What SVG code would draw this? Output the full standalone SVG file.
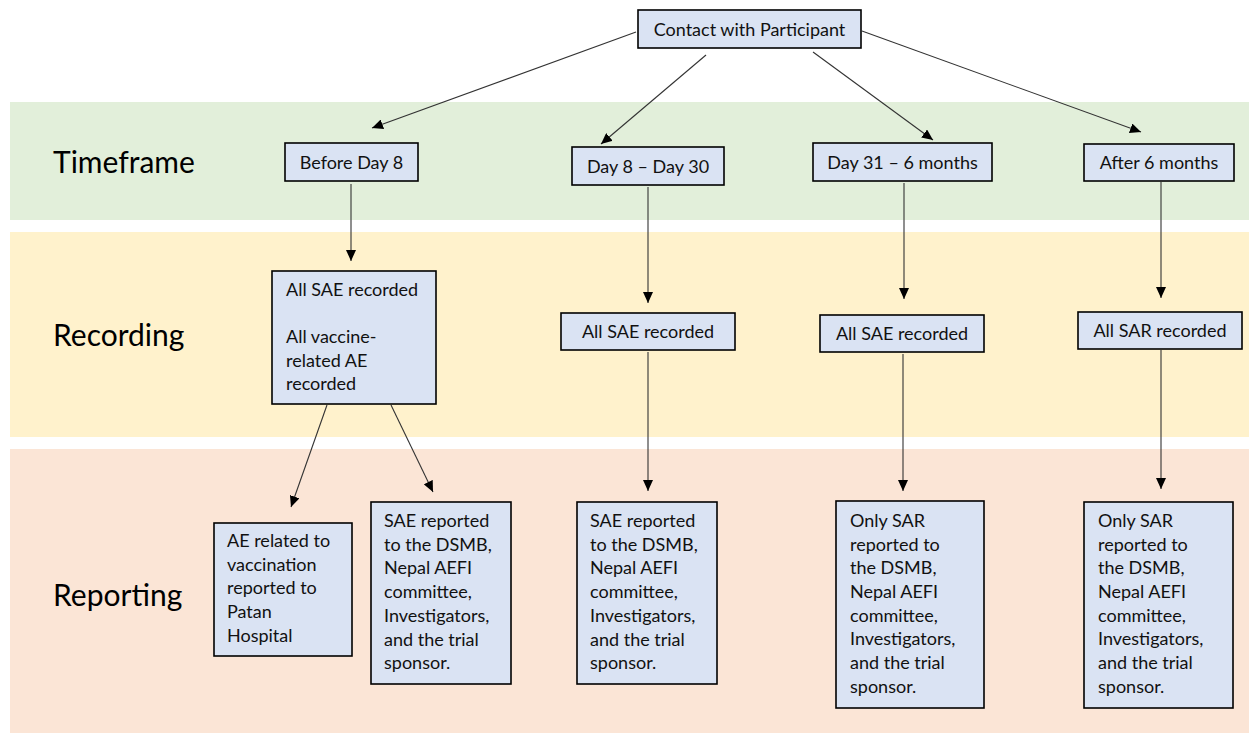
<svg xmlns="http://www.w3.org/2000/svg" width="1249" height="733" viewBox="0 0 1249 733">
<defs>
<style>
.node{fill:#DAE3F3;stroke:#000;stroke-width:1.6}
.t{font-family:Lato,"Liberation Sans",sans-serif;font-size:18px;fill:#111}
.c{text-anchor:middle}
.band{font-family:Lato,"Liberation Sans",sans-serif;font-size:30px;fill:#000}
.conn line{stroke:#333;stroke-width:1.1;marker-end:url(#ah)}
</style>
<marker id="ah" markerUnits="userSpaceOnUse" markerWidth="12" markerHeight="10" refX="11" refY="5" orient="auto">
<path d="M0,0 L11,5 L0,10 z" fill="#000"/>
</marker>
</defs>
<rect width="1249" height="733" fill="#fff"/>
<g id="bands">
<rect x="10" y="102" width="1239" height="118" fill="#E2EFDA"/>
<rect x="10" y="232" width="1239" height="205" fill="#FFF2CC"/>
<rect x="10" y="449" width="1239" height="284" fill="#FBE5D6"/>
<text class="band" x="53" y="173">Timeframe</text>
<text class="band" x="53" y="346">Recording</text>
<text class="band" x="53" y="606">Reporting</text>
</g>
<g class="conn" id="connectors">
<line x1="636" y1="32" x2="372" y2="128"/>
<line x1="706" y1="55" x2="601" y2="144"/>
<line x1="813" y1="52" x2="933" y2="140"/>
<line x1="862" y1="31" x2="1141" y2="132"/>
<line x1="351" y1="184" x2="351" y2="261"/>
<line x1="648" y1="187" x2="648" y2="303"/>
<line x1="904" y1="183" x2="904" y2="299"/>
<line x1="1161" y1="182" x2="1161" y2="298"/>
<line x1="327" y1="405" x2="291" y2="507"/>
<line x1="391" y1="405" x2="433" y2="492"/>
<line x1="648" y1="352" x2="648" y2="491"/>
<line x1="903" y1="354" x2="903" y2="491"/>
<line x1="1161" y1="350" x2="1161" y2="489"/>
</g>
<g id="contact">
<rect class="node" x="638" y="10" width="223" height="38"/>
<text class="t c" x="749.5" y="36">Contact with Participant</text>
</g>
<g id="tf1">
<rect class="node" x="285" y="143" width="133" height="38"/>
<text class="t c" x="351.5" y="169">Before Day 8</text>
</g>
<g id="tf2">
<rect class="node" x="572" y="147" width="152" height="38"/>
<text class="t c" x="648" y="173">Day 8 – Day 30</text>
</g>
<g id="tf3">
<rect class="node" x="813" y="143" width="179" height="38"/>
<text class="t c" x="902.5" y="169">Day 31 – 6 months</text>
</g>
<g id="tf4">
<rect class="node" x="1084" y="144" width="150" height="37"/>
<text class="t c" x="1159" y="169">After 6 months</text>
</g>
<g id="rec1">
<rect class="node" x="272" y="271" width="164" height="133"/>
<text class="t" x="286" y="296">All SAE recorded</text>
<text class="t" x="286" y="343">All vaccine-</text>
<text class="t" x="286" y="367">related AE</text>
<text class="t" x="286" y="390">recorded</text>
</g>
<g id="rec2">
<rect class="node" x="561" y="313" width="174" height="37"/>
<text class="t c" x="648" y="338">All SAE recorded</text>
</g>
<g id="rec3">
<rect class="node" x="820" y="315" width="164" height="37"/>
<text class="t c" x="902" y="340">All SAE recorded</text>
</g>
<g id="rec4">
<rect class="node" x="1078" y="312" width="164" height="37"/>
<text class="t c" x="1160" y="337">All SAR recorded</text>
</g>
<g id="rep1">
<rect class="node" x="214" y="523" width="138" height="133"/>
<text class="t" x="227" y="547">AE related to</text>
<text class="t" x="227" y="571">vaccination</text>
<text class="t" x="227" y="594">reported to</text>
<text class="t" x="227" y="618">Patan</text>
<text class="t" x="227" y="642">Hospital</text>
</g>
<g id="rep2">
<rect class="node" x="371" y="502" width="140" height="182"/>
<text class="t" x="384" y="527">SAE reported</text>
<text class="t" x="384" y="551">to the DSMB,</text>
<text class="t" x="384" y="574">Nepal AEFI</text>
<text class="t" x="384" y="598">committee,</text>
<text class="t" x="384" y="622">Investigators,</text>
<text class="t" x="384" y="646">and the trial</text>
<text class="t" x="384" y="669">sponsor.</text>
</g>
<g id="rep3">
<rect class="node" x="577" y="502" width="140" height="182"/>
<text class="t" x="590" y="527">SAE reported</text>
<text class="t" x="590" y="551">to the DSMB,</text>
<text class="t" x="590" y="574">Nepal AEFI</text>
<text class="t" x="590" y="598">committee,</text>
<text class="t" x="590" y="622">Investigators,</text>
<text class="t" x="590" y="646">and the trial</text>
<text class="t" x="590" y="669">sponsor.</text>
</g>
<g id="rep4">
<rect class="node" x="836" y="501" width="148" height="207"/>
<text class="t" x="850" y="527">Only SAR</text>
<text class="t" x="850" y="551">reported to</text>
<text class="t" x="850" y="574">the DSMB,</text>
<text class="t" x="850" y="598">Nepal AEFI</text>
<text class="t" x="850" y="622">committee,</text>
<text class="t" x="850" y="645">Investigators,</text>
<text class="t" x="850" y="669">and the trial</text>
<text class="t" x="850" y="693">sponsor.</text>
</g>
<g id="rep5">
<rect class="node" x="1084" y="502" width="149" height="206"/>
<text class="t" x="1098" y="527">Only SAR</text>
<text class="t" x="1098" y="551">reported to</text>
<text class="t" x="1098" y="574">the DSMB,</text>
<text class="t" x="1098" y="598">Nepal AEFI</text>
<text class="t" x="1098" y="622">committee,</text>
<text class="t" x="1098" y="645">Investigators,</text>
<text class="t" x="1098" y="669">and the trial</text>
<text class="t" x="1098" y="693">sponsor.</text>
</g>
</svg>
